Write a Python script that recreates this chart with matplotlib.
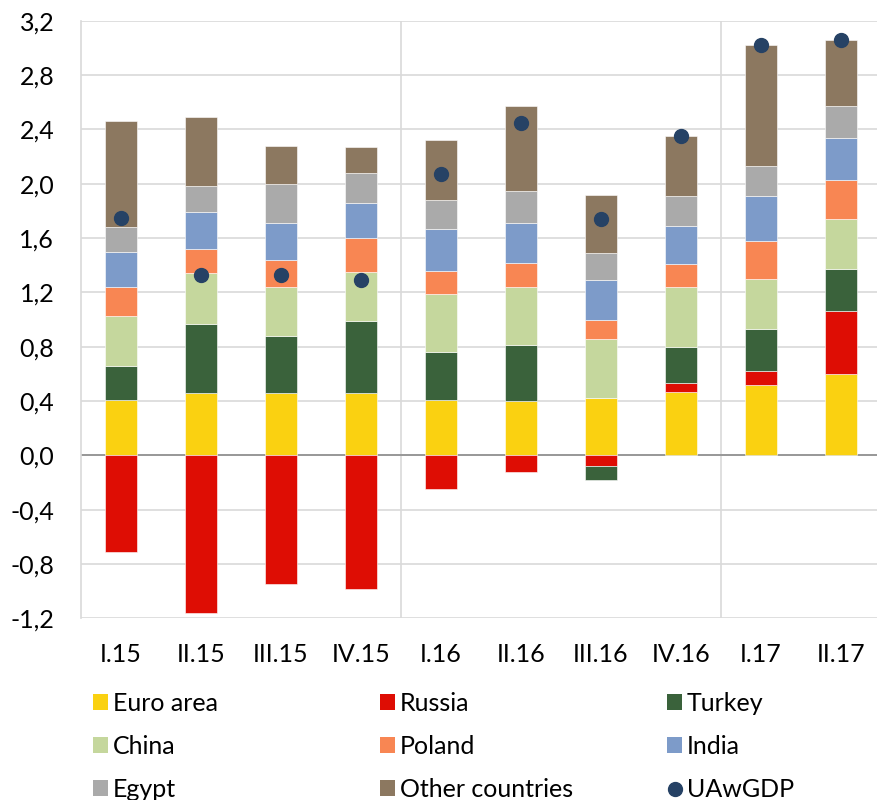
import matplotlib

matplotlib.use("Agg")
import matplotlib.pyplot as plt
import numpy as np
from matplotlib.lines import Line2D
from matplotlib.patches import Patch
from matplotlib.ticker import FuncFormatter

plt.rcParams["font.family"] = ["Lato", "DejaVu Sans"]

quarters = ["I.15", "II.15", "III.15", "IV.15", "I.16", "II.16", "III.16", "IV.16", "I.17", "II.17"]

euro_area = [0.41, 0.46, 0.46, 0.46, 0.41, 0.40, 0.42, 0.47, 0.52, 0.60]
russia = [-0.71, -1.16, -0.95, -0.98, -0.25, -0.12, -0.08, 0.06, 0.10, 0.46]
turkey = [0.25, 0.51, 0.42, 0.53, 0.35, 0.41, -0.10, 0.27, 0.31, 0.31]
china = [0.37, 0.37, 0.36, 0.36, 0.43, 0.43, 0.44, 0.44, 0.37, 0.37]
poland = [0.21, 0.18, 0.20, 0.25, 0.17, 0.18, 0.14, 0.17, 0.28, 0.29]
india = [0.26, 0.27, 0.27, 0.26, 0.31, 0.29, 0.29, 0.28, 0.33, 0.31]
egypt = [0.18, 0.19, 0.29, 0.22, 0.21, 0.24, 0.20, 0.22, 0.22, 0.23]
other = [0.78, 0.51, 0.28, 0.19, 0.44, 0.62, 0.43, 0.44, 0.89, 0.49]
uawgdp = [1.75, 1.33, 1.33, 1.29, 2.07, 2.45, 1.74, 2.35, 3.02, 3.06]

series = [
    ("Euro area", euro_area, "#FAD111"),
    ("Russia", russia, "#DE0D04"),
    ("Turkey", turkey, "#3A623B"),
    ("China", china, "#C5D79D"),
    ("Poland", poland, "#F88653"),
    ("India", india, "#7D9BC9"),
    ("Egypt", egypt, "#AAAAAA"),
    ("Other countries", other, "#8C7860"),
]
dot_color = "#264265"
grid_color = "#D9D9D9"
fs = 18

fig = plt.figure(figsize=(8.77, 8.0), dpi=100)
ax = fig.add_axes([80.7 / 877, 0.227, 800 / 877, 0.747])

x = np.arange(len(quarters))
pos_base = np.zeros(len(quarters))
neg_base = np.zeros(len(quarters))
for name, vals, color in series:
    v = np.asarray(vals, dtype=float)
    bottom = np.where(v >= 0, pos_base, neg_base)
    ax.bar(x, v, width=0.4, bottom=bottom, color=color, edgecolor="white",
           linewidth=0.4, zorder=3)
    pos_base += np.clip(v, 0, None)
    neg_base += np.clip(v, None, 0)

ax.plot(x, uawgdp, "o", color=dot_color, markersize=10, zorder=4)

ax.set_xlim(-0.5, len(quarters) - 0.5)
ax.set_ylim(-1.2, 3.2)
ax.set_yticks(np.arange(-1.2, 3.21, 0.4))
ax.yaxis.set_major_formatter(FuncFormatter(lambda v, _: f"{v:.1f}".replace(".", ",").replace("-0,0", "0,0")))
ax.set_xticks(x)
ax.set_xticklabels(quarters)
ax.tick_params(axis="x", length=0, pad=18, labelsize=fs)
ax.tick_params(axis="y", length=0, pad=19, labelsize=fs)

ax.grid(axis="y", color=grid_color, linewidth=1.2, zorder=0)
for sep in [3.5, 7.5]:
    ax.axvline(sep, color=grid_color, linewidth=1.2, zorder=0)
ax.axhline(0, color="#8C8C8C", linewidth=1.2, zorder=2)
for side in ["top", "right", "bottom"]:
    ax.spines[side].set_visible(False)
ax.spines["left"].set_color(grid_color)
ax.spines["left"].set_linewidth(1.2)

# three legend columns, each placed on its own
handles = [Patch(facecolor=c, edgecolor="none", label=n) for n, _, c in series]
handles.append(Line2D([], [], marker="o", linestyle="none", color=dot_color,
                      markersize=10, label="UAwGDP"))
columns = [handles[0::3], handles[1::3], handles[2::3]]
for i, col in enumerate(columns):
    fig.legend(handles=col, loc="upper left",
               bbox_to_anchor=((83 + 287 * i) / 877, 1 - 682 / 800),
               frameon=False, fontsize=fs, handlelength=0.6, handleheight=0.6,
               handletextpad=0.2, labelspacing=0.8, borderaxespad=0)

fig.savefig("out.png", dpi=100)
